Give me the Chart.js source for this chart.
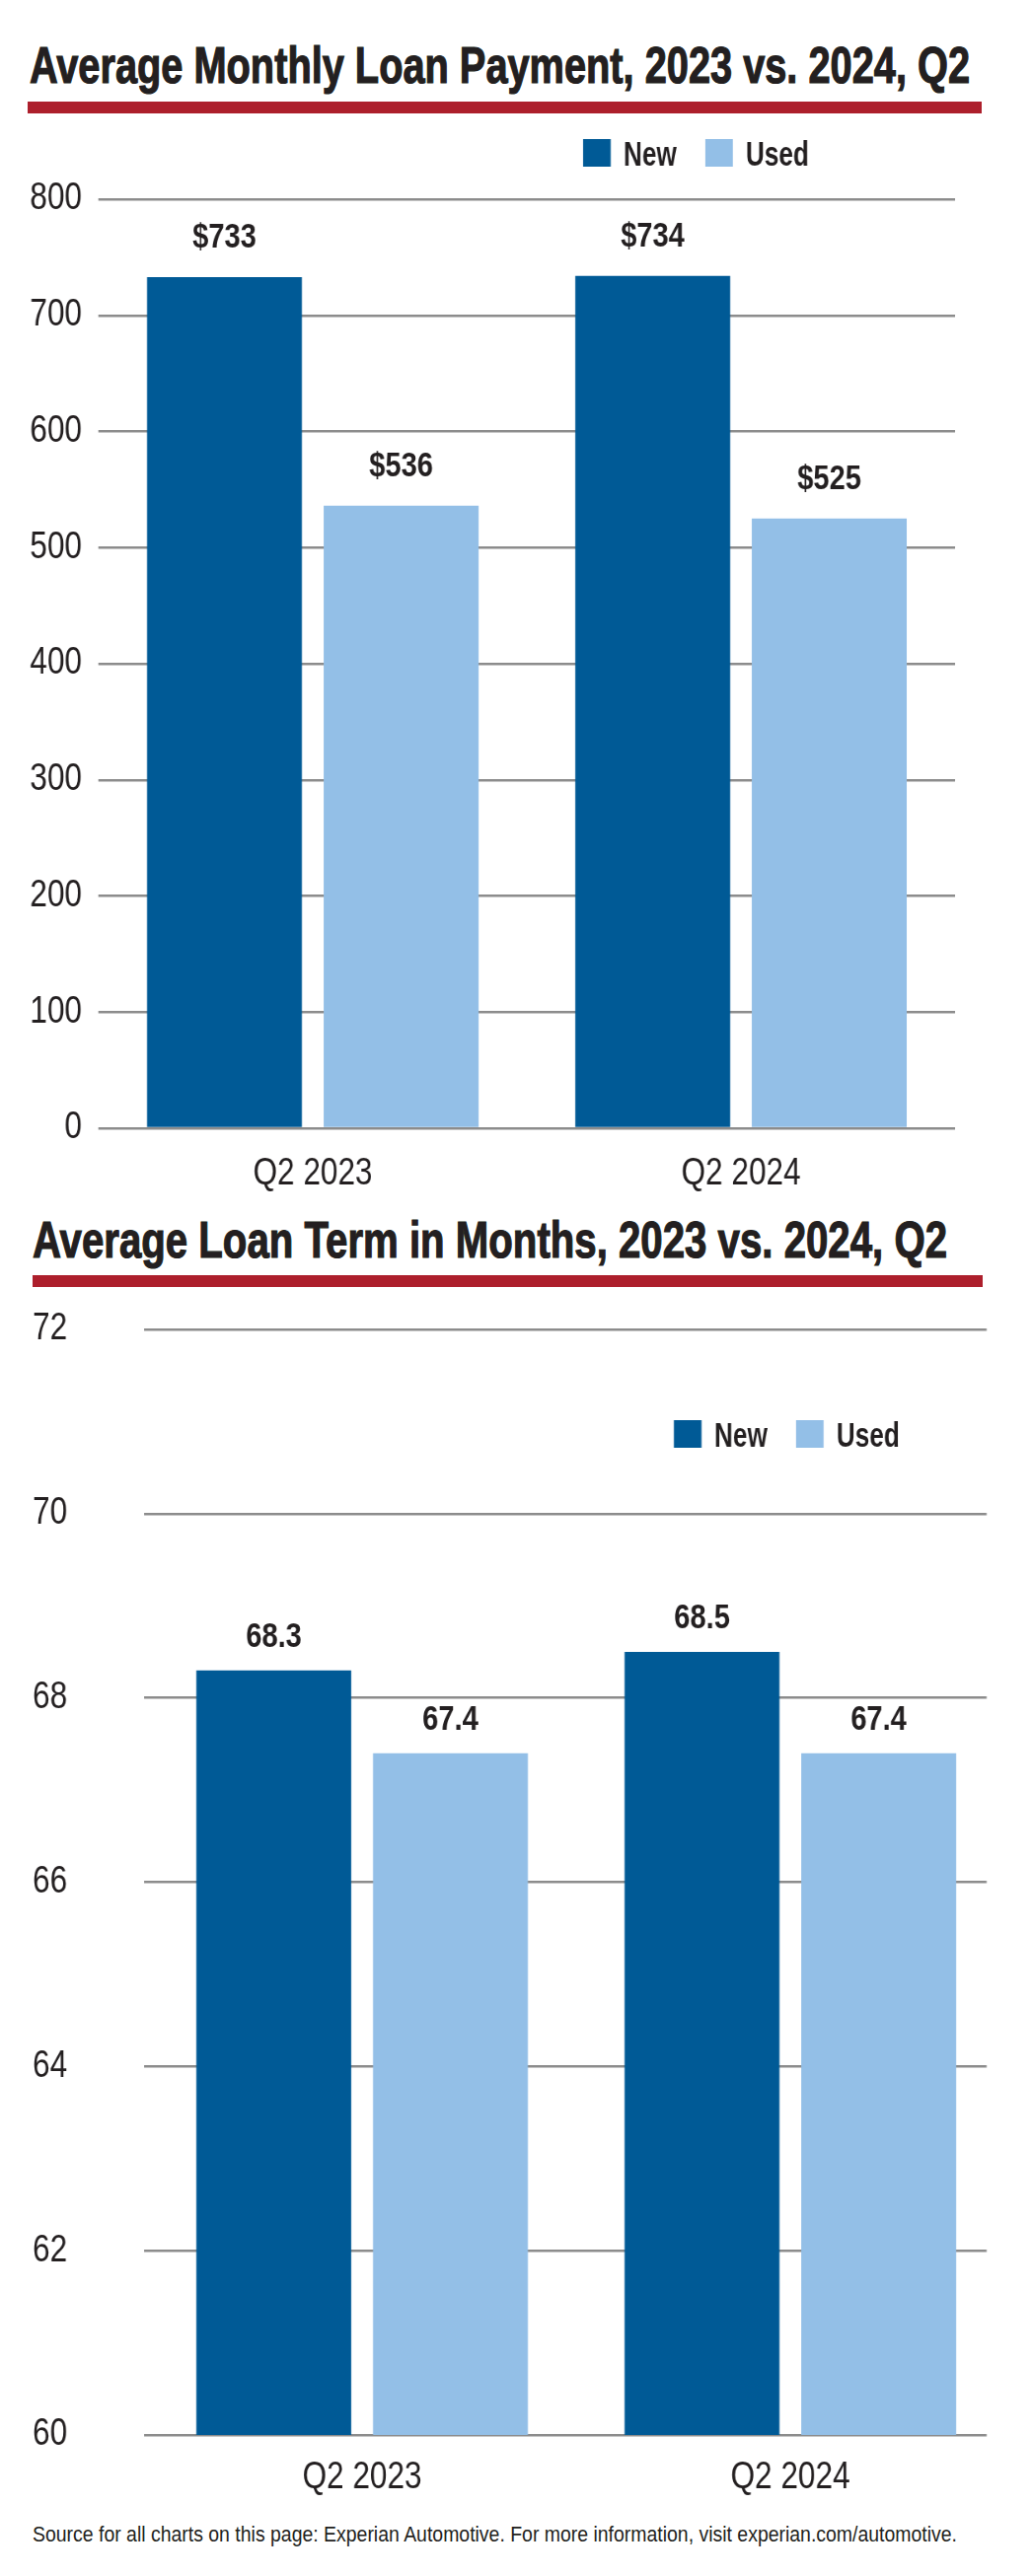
<!DOCTYPE html>
<html>
<head>
<meta charset="utf-8">
<script src="https://cdn.jsdelivr.net/npm/chart.js@4.4.1/dist/chart.umd.min.js"></script>
<style>
  html, body { margin: 0; padding: 0; background: #fff; }
  body { width: 1046px; height: 2612px; position: relative; overflow: hidden; color: #231f20;
         font-family: 'Liberation Sans', Arial, sans-serif; }
  .title { position: absolute; font-weight: bold; font-size: 52px; line-height: 52px; white-space: nowrap;
           transform-origin: 0 0; -webkit-text-stroke: 1.2px #231f20; }
  .rule { position: absolute; height: 12px; background: #ad1f2c; }
  /* the print uses a condensed face: the charts are laid out wider and squeezed */
  .box { position: absolute; left: 0; width: 1260px; transform: scaleX(0.8302); transform-origin: 0 0; }
  .source { position: absolute; font-size: 22px; line-height: 30px; white-space: nowrap; transform-origin: 0 0; }
</style>
</head>
<body>
<div class="title" data-w="953" style="left:30px; top:40px;">Average Monthly Loan Payment, 2023 vs. 2024, Q2</div>
<div class="rule" style="left:28px; width:967px; top:103px;"></div>
<div class="box" style="top:120px; height:1100px;"><canvas id="paymentChart"></canvas></div>

<div class="title" data-w="927" style="left:33px; top:1231px;">Average Loan Term in Months, 2023 vs. 2024, Q2</div>
<div class="rule" style="left:33px; width:963px; top:1293px;"></div>
<div class="box" style="top:1320px; height:1220px;"><canvas id="termChart"></canvas></div>

<div class="source" data-w="937" style="left:33px; top:2555px;">Source for all charts on this page: Experian Automotive. For more information, visit experian.com/automotive.</div>

<script>
// data
const categories = ['Q2 2023', 'Q2 2024'];
const seriesNames = ['New', 'Used'];
const paymentNew = [733, 734];
const paymentUsed = [536, 525];
const termNew = [68.3, 68.5];
const termUsed = [67.4, 67.4];
const paymentTicks = [0, 800, 100];   // min, max, step
const termTicks = [60, 72, 2];

const FONT = "'Liberation Sans', Arial, sans-serif";
const INK = '#231f20';
const NEW_BLUE = '#005a96';
const USED_BLUE = '#93bfe7';
const GRID = '#8c8c8c';
const SQ = 1046 / 1260;   // horizontal squeeze of the chart boxes

// squeeze the html texts to the width they take in the print
document.querySelectorAll('[data-w]').forEach(el => {
    const w = el.getBoundingClientRect().width;
    el.style.transform = 'scaleX(' + (Number(el.dataset.w) / w) + ')';
});

const valueLabels = {
    id: 'valueLabels',
    afterDatasetsDraw(chart, args, opts) {
        const ctx = chart.ctx;
        ctx.save();
        ctx.font = 'bold 35px ' + FONT;
        ctx.fillStyle = INK;
        ctx.textAlign = 'center';
        ctx.textBaseline = 'alphabetic';
        chart.data.datasets.forEach((ds, i) => {
            chart.getDatasetMeta(i).data.forEach((bar, j) => {
                ctx.fillText(opts.prefix + ds.data[j].toFixed(opts.decimals), bar.x, bar.y - opts.gap);
            });
        });
        ctx.restore();
    }
};

// legend placed where the print has it; x given in page pixels
const boxLegend = {
    id: 'boxLegend',
    afterDraw(chart, args, opts) {
        const ctx = chart.ctx;
        ctx.save();
        ctx.font = 'bold 35px ' + FONT;
        ctx.textBaseline = 'alphabetic';
        let x = opts.x / SQ;
        chart.data.datasets.forEach(ds => {
            ctx.fillStyle = ds.backgroundColor;
            ctx.fillRect(x, opts.y, 28 / SQ, 28);
            x += 41 / SQ;
            ctx.fillStyle = INK;
            ctx.save();
            ctx.translate(x, opts.y + 27);
            ctx.scale(0.9, 1);
            ctx.fillText(ds.label, 0, 0);
            ctx.restore();
            x += ctx.measureText(ds.label).width * 0.9 + 29 / SQ;
        });
        ctx.restore();
    }
};

// in the second print the bar groups sit a little right of the grid lines
const xRange = {
    id: 'xRange',
    afterLayout(chart, args, opts) {
        if (!opts.right) return;
        const x = chart.scales.x;
        x.left = opts.left / SQ;
        x.right = opts.right / SQ;
        x.width = x.right - x.left;
        x.configure();
    }
};

function barChart(id, newVals, usedVals, ticks, o) {
    new Chart(document.getElementById(id), {
        type: 'bar',
        data: {
            labels: categories,
            datasets: [{
                label: seriesNames[0],
                data: newVals,
                backgroundColor: NEW_BLUE,
                categoryPercentage: o.catPct,
                barPercentage: o.barPct
            }, {
                label: seriesNames[1],
                data: usedVals,
                backgroundColor: USED_BLUE,
                categoryPercentage: o.catPct,
                barPercentage: o.barPct
            }]
        },
        options: {
            responsive: true,
            maintainAspectRatio: false,
            animation: false,
            layout: { padding: o.padding },
            plugins: {
                legend: { display: false },
                tooltip: { enabled: false },
                valueLabels: o.labels,
                boxLegend: o.legend,
                xRange: o.range
            },
            scales: {
                x: {
                    grid: { display: false },
                    border: { display: false },
                    ticks: { color: INK, font: { family: FONT, size: 38 }, padding: o.xPad },
                    afterFit: s => { s.height = o.xHeight; }
                },
                y: {
                    min: ticks[0],
                    max: ticks[1],
                    grid: { color: GRID, lineWidth: 2.5, drawTicks: false },
                    border: { display: false },
                    ticks: { stepSize: ticks[2], color: INK, font: { family: FONT, size: 38 },
                             padding: o.yPad, crossAlign: o.yAlign },
                    afterFit: s => { s.width = o.yWidth; }
                }
            }
        },
        plugins: [valueLabels, boxLegend, xRange]
    });
}

barChart('paymentChart', paymentNew, paymentUsed, paymentTicks, {
    catPct: 0.825, barPct: 0.877,
    padding: { top: 82, right: 1260 - 968 / SQ, bottom: 0, left: 0 },
    xHeight: 76, xPad: 16, yWidth: 100 / SQ, yPad: 17 / SQ, yAlign: 'near',
    labels: { prefix: '$', decimals: 0, gap: 30 },
    legend: { x: 591, y: 21 },
    range: {}
});

barChart('termChart', termNew, termUsed, termTicks, {
    catPct: 0.825, barPct: 0.877,
    padding: { top: 28, right: 1260 - 1000 / SQ, bottom: 0, left: 33 / SQ },
    xHeight: 71, xPad: 13, yWidth: 113 / SQ, yPad: 0, yAlign: 'far',
    labels: { prefix: '', decimals: 1, gap: 24 },
    legend: { x: 683, y: 120 },
    range: { left: 150, right: 1018 }
});
</script>
</body>
</html>
